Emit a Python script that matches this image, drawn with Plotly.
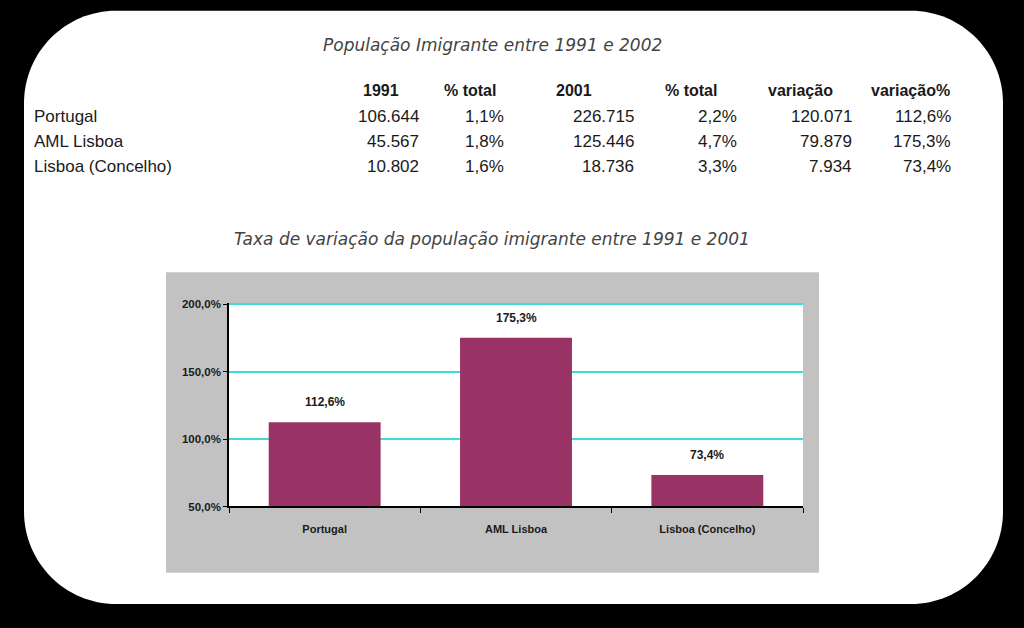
import plotly.graph_objects as go

# ---------------- data ----------------
regions = ["Portugal", "AML Lisboa", "Lisboa (Concelho)"]
variacao_pct = [112.6, 175.3, 73.4]

table_headers = ["1991", "% total", "2001", "% total", "variação", "variação%"]
col_1991 = ["106.644", "45.567", "10.802"]
col_pct1991 = ["1,1%", "1,8%", "1,6%"]
col_2001 = ["226.715", "125.446", "18.736"]
col_pct2001 = ["2,2%", "4,7%", "3,3%"]
col_var = ["120.071", "79.879", "7.934"]
col_varpct = ["112,6%", "175,3%", "73,4%"]

y_ticks = [50, 100, 150, 200]
y_ticktext = ["50,0%", "100,0%", "150,0%", "200,0%"]

title_table = "População Imigrante entre 1991 e 2002"
title_chart = "Taxa de variação da população imigrante entre 1991 e 2001"

# ---------------- layout helpers ----------------
W, H = 1024, 628
# observed vertical mapping of the rendered page (compensation)
SY, OY = 0.977, 7.3


def fx(x):
    return x / W


def fy(y):
    return 1 - ((y - OY) / SY) / H


def rounded_path(L, T, R, B, r):
    k = 0.5523 * r

    def P(x, y):
        return f"{fx(x):.5f},{fy(y):.5f}"
    s = f"M {P(L, T + r)} "
    s += f"C {P(L, T + r - k)} {P(L + r - k, T)} {P(L + r, T)} "
    s += f"L {P(R - r, T)} "
    s += f"C {P(R - r + k, T)} {P(R, T + r - k)} {P(R, T + r)} "
    s += f"L {P(R, B - r)} "
    s += f"C {P(R, B - r + k)} {P(R - r + k, B)} {P(R - r, B)} "
    s += f"L {P(L + r, B)} "
    s += f"C {P(L + r - k, B)} {P(L, B - r + k)} {P(L, B - r)} Z"
    return s


BAR_COLOR = "#993366"
GRID_COLOR = "#3FDADA"
TXT = "#1a1a1a"
table_font = "Liberation Sans, Arial, sans-serif"
chart_font = "Liberation Sans, Arial, sans-serif"
title_font = "DejaVu Sans, Open Sans, sans-serif"

# plot area: 50% at y=506px, 200% at y=305px; small headroom so the 200% grid line shows fully
Y_MIN, Y_MAX, Y_TOP = 50, 200, 201
px_per_unit = (506 - 305) / (Y_MAX - Y_MIN)
plot_top_px = 305 - (Y_TOP - Y_MAX) * px_per_unit

fig = go.Figure()
fig.add_trace(go.Bar(
    x=regions, y=variacao_pct, marker=dict(color=BAR_COLOR, line=dict(width=0)),
    width=0.585, hoverinfo="skip", showlegend=False,
))

shapes = [
    dict(type="path", xref="paper", yref="paper", layer="below",
         path=rounded_path(24, 13, 1003, 603, 92),
         fillcolor="white", line=dict(width=0)),
    dict(type="rect", xref="paper", yref="paper", layer="below",
         x0=fx(166), x1=fx(819), y0=fy(572), y1=fy(273),
         fillcolor="#C2C2C2", line=dict(width=0)),
    dict(type="rect", xref="x domain", yref="y domain", layer="below",
         x0=0, x1=1, y0=0, y1=1, fillcolor="white", line=dict(width=0)),
]

annotations = []
# titles
annotations.append(dict(text=title_table, x=fx(492), y=fy(47), xref="paper", yref="paper",
                        showarrow=False, xanchor="center", yanchor="middle",
                        font=dict(family=title_font, size=17, color="#444444", style="italic")))
annotations.append(dict(text=title_chart, x=fx(492), y=fy(240), xref="paper", yref="paper",
                        showarrow=False, xanchor="center", yanchor="middle",
                        font=dict(family=title_font, size=17, color="#444444", style="italic")))

# table headers
header_cx = [381, 470, 574, 691, 800, 910]
for h, cx in zip(table_headers, header_cx):
    annotations.append(dict(text=f"<b>{h}</b>", x=fx(cx), y=fy(92), xref="paper", yref="paper",
                            showarrow=False, xanchor="center", yanchor="middle",
                            font=dict(family=table_font, size=16, color=TXT)))

row_y = [118, 143, 168]
for name, ry in zip(regions, row_y):
    annotations.append(dict(text=name, x=fx(32), y=fy(ry), xref="paper", yref="paper",
                            showarrow=False, xanchor="left", yanchor="middle",
                            font=dict(family=table_font, size=17, color=TXT)))

cols = [col_1991, col_pct1991, col_2001, col_pct2001, col_var, col_varpct]
col_right = [421, 506, 636, 739, 854, 953]
for col, rx in zip(cols, col_right):
    for val, ry in zip(col, row_y):
        annotations.append(dict(text=val, x=fx(rx), y=fy(ry), xref="paper", yref="paper",
                                showarrow=False, xanchor="right", yanchor="middle",
                                font=dict(family=table_font, size=17, color=TXT)))

# data labels
for reg, v in zip(regions, variacao_pct):
    annotations.append(dict(text=f"<b>{v:.1f}%</b>".replace(".", ","), x=reg, y=v,
                            xref="x", yref="y", showarrow=False, yshift=20,
                            xanchor="center", yanchor="middle",
                            font=dict(family=chart_font, size=12, color=TXT)))

fig.update_layout(
    width=W, height=H, margin=dict(l=0, r=0, t=0, b=0),
    paper_bgcolor="black", plot_bgcolor="white",
    shapes=shapes, annotations=annotations,
    xaxis=dict(domain=[fx(229), fx(803)], showline=True, linecolor="black", linewidth=1.5,
               ticks="outside", tickson="boundaries", ticklen=5, tickcolor="black",
               tickfont=dict(family=chart_font, size=11, color=TXT, weight="bold"),
               ticklabelstandoff=12,
               showgrid=False, fixedrange=True, range=[-0.5, 2.5]),
    yaxis=dict(domain=[fy(506), fy(plot_top_px)], range=[Y_MIN, Y_TOP],
               tickvals=y_ticks, ticktext=y_ticktext,
               showline=True, linecolor="black", linewidth=1.5,
               ticks="outside", ticklen=4, tickcolor="black",
               tickfont=dict(family=chart_font, size=11.5, color=TXT, weight="bold"),
               showgrid=True, gridcolor=GRID_COLOR, gridwidth=2, zeroline=False, fixedrange=True),
)

fig.write_html("out.html")
